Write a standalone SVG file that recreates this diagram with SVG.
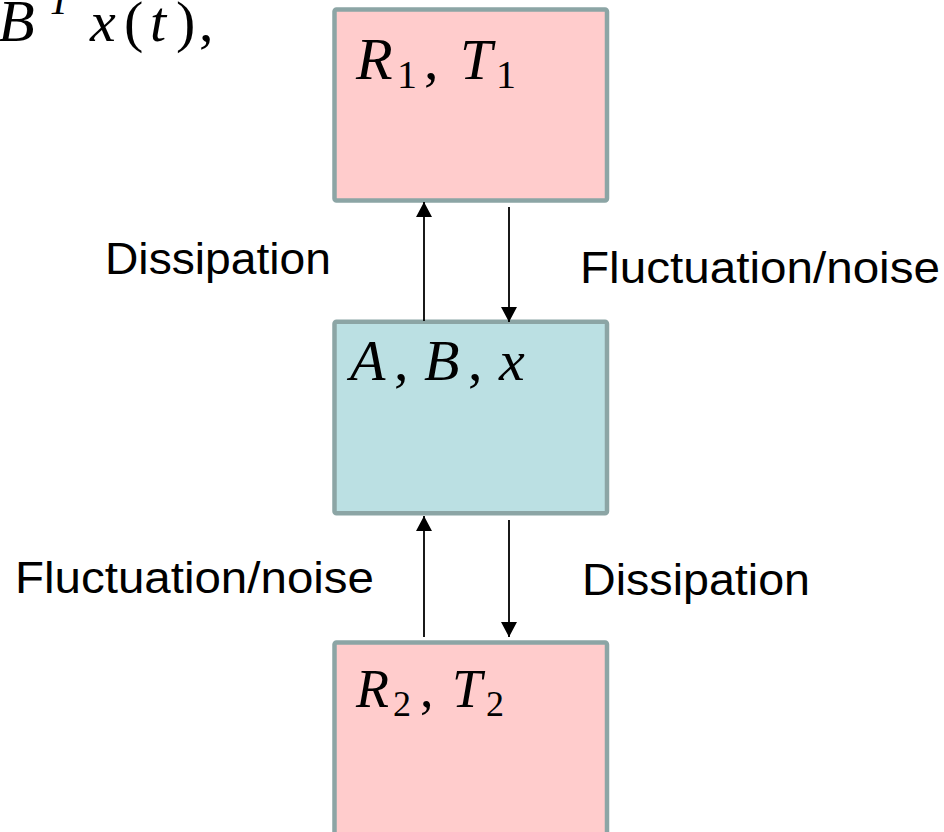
<svg xmlns="http://www.w3.org/2000/svg" width="944" height="832" viewBox="0 0 944 832">
<style>
.box{stroke:#8ca5a5;stroke-width:4.5}
.pink{fill:#ffcccc}
.blue{fill:#bbe0e3}
.lbl{font-family:"Liberation Sans",Arial,sans-serif;font-size:44px;fill:#000}
.m{font-family:"Liberation Serif","Times New Roman",serif;font-size:58px;fill:#000}
.i{font-style:italic}
.s{font-size:40px}
.conn line{stroke:#000;stroke-width:1.8}
</style>
<defs>
<marker id="ah" markerUnits="userSpaceOnUse" markerWidth="16" markerHeight="16" viewBox="0 0 16 16" refX="15" refY="8" orient="auto">
<path d="M0,0 L15,8 L0,16 Z" fill="#000"/>
</marker>
</defs>
<rect width="944" height="832" fill="#fff"/>
<g id="formula">
<text class="m i" x="-2" y="41" style="font-size:60px">B</text>
<text class="m i s" x="48" y="14">T</text>
<text class="m"><tspan class="i" x="90" y="41">x</tspan><tspan x="124" y="41">(</tspan><tspan class="i" x="150" y="41">t</tspan><tspan x="176" y="41">)</tspan><tspan x="199" y="41">,</tspan></text>
</g>
<g id="node-r1t1">
<rect class="box pink" x="334.5" y="9.5" width="272.5" height="191" rx="2"/>
<text class="m"><tspan class="i" x="356" y="79" style="font-size:60px">R</tspan><tspan class="s" x="397" y="88">1</tspan><tspan x="424" y="79">,</tspan><tspan class="i" x="460" y="79">T</tspan><tspan class="s" x="496" y="88">1</tspan></text>
</g>
<g id="node-abx">
<rect class="box blue" x="334.5" y="321.7" width="272.5" height="191.6" rx="2"/>
<text class="m"><tspan class="i" x="350" y="380">A</tspan><tspan x="394" y="380">,</tspan><tspan class="i" x="424" y="380">B</tspan><tspan x="468" y="380">,</tspan><tspan class="i" x="499" y="380">x</tspan></text>
</g>
<g id="node-r2t2">
<rect class="box pink" x="334.5" y="642.5" width="272.5" height="200" rx="2"/>
<text class="m" style="font-size:54px"><tspan class="i" x="356" y="707">R</tspan><tspan style="font-size:36px" x="393" y="716">2</tspan><tspan x="420" y="707">,</tspan><tspan class="i" x="452" y="707">T</tspan><tspan style="font-size:36px" x="486" y="716">2</tspan></text>
</g>
<g class="conn" id="connectors">
<line x1="424" y1="321" x2="424" y2="202" marker-end="url(#ah)"/>
<line x1="509" y1="207" x2="509" y2="322" marker-end="url(#ah)"/>
<line x1="424" y1="637" x2="424" y2="516" marker-end="url(#ah)"/>
<line x1="509" y1="520" x2="509" y2="637" marker-end="url(#ah)"/>
</g>
<g id="labels">
<text class="lbl" x="105" y="274" textLength="226" lengthAdjust="spacingAndGlyphs">Dissipation</text>
<text class="lbl" x="580" y="283" textLength="360" lengthAdjust="spacingAndGlyphs">Fluctuation/noise</text>
<text class="lbl" x="15" y="593" textLength="359" lengthAdjust="spacingAndGlyphs">Fluctuation/noise</text>
<text class="lbl" x="582" y="595" textLength="228" lengthAdjust="spacingAndGlyphs">Dissipation</text>
</g>
</svg>
